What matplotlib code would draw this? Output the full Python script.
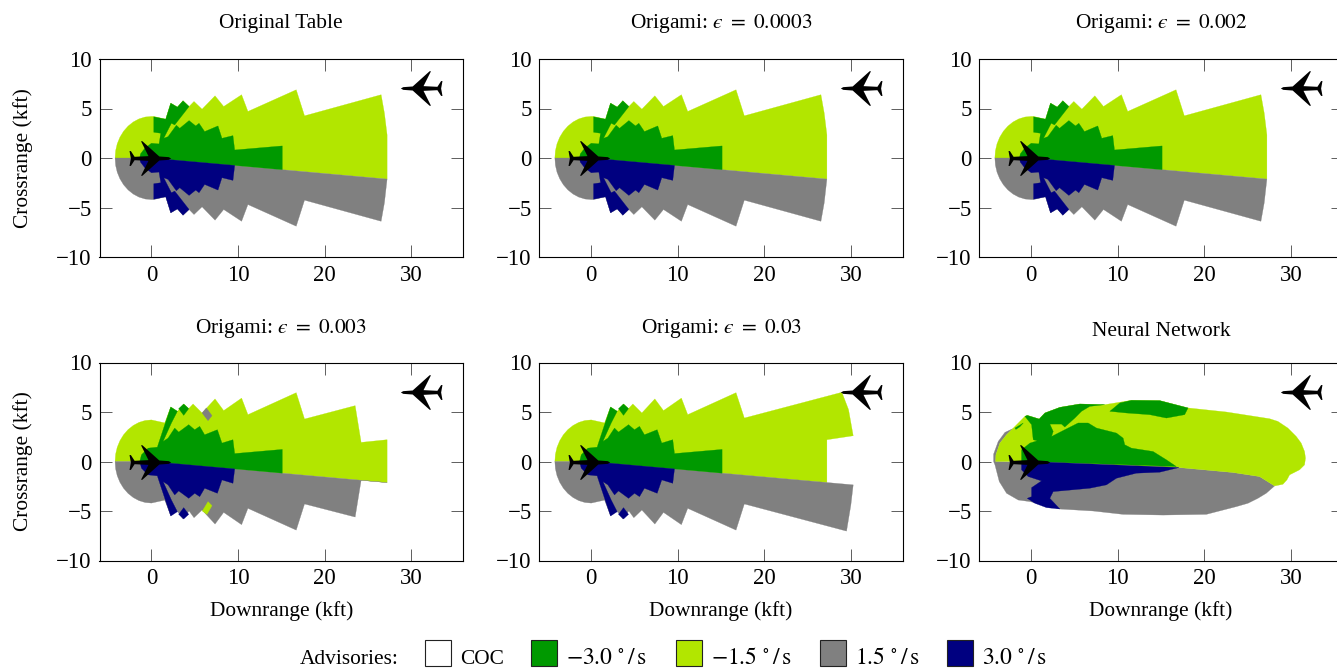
from matplotlib import pyplot as plt
from matplotlib.patches import Polygon, Rectangle
from matplotlib.path import Path

plt.rcParams['font.family'] = ['Liberation Serif', 'DejaVu Serif']
plt.rcParams['mathtext.fontset'] = 'stix'

COC = '#ffffff'
DARK = '#009900'
LIGHT = '#b2e600'
GRAY = '#808080'
NAVY = '#000080'

# rear half circle around ownship, shared by the table outlines (kft)
arc_top = [(-4.2, 0), (-4.14, 0.73), (-3.95, 1.44), (-3.64, 2.1), (-3.22, 2.7), (-2.7, 3.22), (-2.1, 3.64),
           (-1.44, 3.95), (-0.73, 4.14), (0, 4.2)]
arc_bottom = [(0, -4.2), (-0.73, -4.14), (-1.44, -3.95), (-2.1, -3.64), (-2.7, -3.22), (-3.22, -2.7), (-3.64, -2.1),
              (-3.95, -1.44), (-4.14, -0.73), (-4.2, 0)]

# table outlines
table_light = arc_top + [(0.27, 4.2), (1.65, 3.92), (2.23, 5.54), (3.0, 5.14), (3.65, 5.78), (4.35, 5.2), (4.92, 5.71),
                         (5.85, 4.93), (7.35, 6.28), (8.35, 5.2), (10.42, 6.39), (11.15, 4.7), (16.73, 6.89),
                         (17.69, 4.26), (26.54, 6.39), (26.92, 4.53), (27.23, 2.33), (27.23, -2.13), (0, 0)]
table_gray = [(0, 0), (27.23, -2.13), (26.92, -4.53), (26.54, -6.39), (17.69, -4.26), (16.73, -6.89),
              (11.15, -4.7), (10.42, -6.39), (8.35, -5.2), (7.35, -6.28), (5.85, -4.93), (4.92, -5.71), (4.35, -5.2),
              (3.65, -5.78), (3.0, -5.14), (2.23, -5.54), (1.65, -3.92), (0.27, -4.2)] + arc_bottom
table_dark = [(-1.35, 0), (-1.27, 0.41), (-0.77, 0.98), (0, 1.49), (0.88, 1.42), (1.08, 2.5), (0.27, 2.6), (0.27, 4.16),
              (1.65, 3.92), (2.23, 5.54), (3.0, 5.14), (3.65, 5.78), (4.35, 5.2), (2.69, 3.34), (2.31, 3.51),
              (1.42, 1.99), (1.92, 2.16), (2.88, 3.31), (3.27, 3.0), (4.35, 3.78), (5.12, 3.24), (5.5, 3.51),
              (6.15, 2.67), (7.69, 3.24), (8.15, 1.99), (9.42, 2.26), (9.62, 0.81), (15.12, 1.22), (15.12, -1.18),
              (0, 0)]
table_navy = [(-1.35, 0), (-1.27, -0.41), (-0.77, -0.98), (0, -1.49), (0.88, -1.42), (1.08, -2.5), (0.27, -2.6),
              (0.27, -4.16), (1.65, -3.92), (2.23, -5.54), (3.0, -5.14), (3.65, -5.78), (4.35, -5.2), (2.69, -3.34),
              (2.31, -3.51), (1.42, -1.99), (1.92, -2.16), (2.88, -3.31), (3.27, -3.0), (4.35, -3.78), (5.12, -3.24),
              (5.5, -3.51), (6.15, -2.67), (7.69, -3.24), (8.15, -1.99), (9.42, -2.26), (9.62, -0.75), (0, 0)]

# origami eps=0.003
e3_light = arc_top + [(1.54, 3.9), (2.23, 5.5), (3.0, 5.07), (3.73, 5.81), (4.31, 5.34), (4.81, 5.81), (5.85, 4.9),
                      (7.35, 6.32), (8.35, 5.14), (10.42, 6.4), (11.15, 4.73), (16.73, 6.95), (17.69, 4.29),
                      (23.54, 5.64), (24.23, 1.93), (27.23, 2.2), (27.23, -2.13), (0, 0)]
e3_gray = [(0, 0), (27.23, -2.13), (24.23, -1.9), (23.54, -5.61), (17.69, -4.29), (16.73, -6.93),
           (11.15, -4.73), (10.42, -6.38), (8.35, -5.14), (7.35, -6.32), (5.85, -4.9), (4.92, -5.68), (4.35, -5.0),
           (3.65, -5.81), (2.96, -5.0), (2.23, -5.47), (1.54, -3.9)] + arc_bottom
e3_dark = [(-1.35, 0), (-1.15, 0.68), (-0.38, 1.35), (0.69, 1.45), (0.77, 1.69), (1.54, 3.72), (2.23, 5.51), (3.0, 5.07),
           (2.31, 3.89), (1.35, 2.03), (1.92, 2.36), (2.69, 3.38), (3.15, 2.97), (4.31, 3.72), (5.0, 3.21), (5.58, 3.55),
           (6.15, 2.7), (7.62, 3.21), (8.15, 1.86), (9.42, 2.2), (9.62, 0.8), (15.12, 1.22), (15.12, -1.18), (0, 0)]
e3_navy = [(-1.35, 0), (-1.15, -0.68), (-0.38, -1.35), (0.69, -1.45), (0.77, -1.69), (1.54, -3.72), (2.23, -5.51),
           (3.0, -5.07), (2.31, -3.89), (1.35, -2.03), (1.92, -2.36), (2.69, -3.38), (3.15, -2.97), (4.31, -3.72),
           (5.0, -3.21), (5.58, -3.55), (6.15, -2.7), (7.62, -3.21), (8.15, -1.86), (9.42, -2.2), (9.62, -0.75), (0, 0)]
diamond_dark = [(3.15, 5.34), (3.73, 5.81), (4.31, 5.34), (3.73, 4.66)]
diamond_navy = [(3.15, -5.34), (3.73, -5.81), (4.31, -5.34), (3.73, -4.66)]
e3_gray_patch = [(5.85, 4.9), (6.35, 5.41), (7.0, 4.63), (6.54, 4.12)]
e3_light_patch = [(5.88, -5.0), (6.54, -4.05), (7.0, -4.46), (6.42, -5.34)]

# origami eps=0.03
e30_light = arc_top + [(1.54, 3.9), (2.23, 5.5), (3.0, 5.07), (3.73, 5.81), (4.31, 5.34), (4.81, 5.81), (5.85, 4.9),
                       (7.35, 6.32), (8.35, 5.14), (10.42, 6.4), (11.15, 4.73), (16.73, 6.95), (17.69, 4.39),
                       (28.96, 6.99), (29.73, 5.24), (30.27, 2.6), (27.23, 2.2), (27.23, -2.13), (0, 0)]
e30_gray = [(0, 0), (30.27, -2.36), (30.0, -4.39), (29.5, -7.03), (17.69, -4.29), (16.73, -6.93),
            (11.15, -4.73), (10.42, -6.38), (8.35, -5.14), (7.35, -6.32), (5.85, -4.9), (4.92, -5.68), (4.35, -5.0),
            (3.65, -5.81), (2.96, -5.0), (2.23, -5.47), (1.54, -3.9)] + arc_bottom

# neural network regions
nn_gray = [(-4.35, 0), (-4.35, 0.74), (-3.81, 2.03), (-3.04, 2.94), (-2.15, 3.31), (-2.85, 2.7), (-3.62, 1.86),
           (-4.08, 0.68), (-4.12, 0), (17.08, -0.61), (23.31, -1.11), (26.38, -1.52), (28.12, -2.47), (27.15, -3.21),
           (26.19, -3.72), (25.04, -4.22), (23.69, -4.56), (20.23, -5.34), (15.23, -5.41), (10.62, -5.34), (7.15, -5.0),
           (3.31, -4.8), (-0.15, -4.05), (-1.5, -3.89), (-2.85, -3.21), (-3.69, -2.03), (-4.19, -0.34)]
nn_light = [(-4.12, 0), (-4.08, 0.68), (-3.62, 1.86), (-2.85, 2.7), (-2.15, 3.31), (-0.73, 4.56), (-0.46, 4.66),
            (0.92, 4.29), (1.58, 4.9), (3.31, 5.47), (5.62, 5.81), (8.5, 5.74), (11.58, 6.18), (14.85, 6.15),
            (18.12, 5.41), (22.54, 5.0), (27.54, 4.32), (28.5, 4.05), (29.65, 3.38), (30.62, 2.53), (31.19, 1.86),
            (31.58, 1.01), (31.69, 0.34), (31.58, -0.34), (31.0, -0.84), (29.85, -1.35), (29.54, -1.86), (29.08, -2.3),
            (28.12, -2.47), (26.38, -1.52), (23.31, -1.11), (17.08, -0.61), (0, 0)]
nn_dark = [(-1.12, 0), (-1.12, 1.18), (-0.15, 1.86), (0.69, 2.09), (0.23, 2.2), (0.04, 3.72), (-0.73, 4.56), (-0.46, 4.66),
           (0.92, 4.29), (1.58, 4.9), (3.31, 5.47), (5.62, 5.81), (8.5, 5.74), (6.77, 5.57), (5.81, 5.07), (5.04, 4.39),
           (3.88, 3.48), (3.5, 3.78), (2.15, 3.78), (2.54, 3.04), (2.35, 2.53), (3.88, 3.21), (5.42, 3.89), (6.58, 3.89),
           (7.54, 3.38), (9.85, 2.87), (10.62, 2.36), (10.81, 1.69), (11.58, 1.35), (14.08, 1.01), (15.62, 0.17),
           (16.77, -0.51), (0, 0)]
nn_dark_top = [(9.08, 5.07), (10.23, 5.91), (11.58, 6.18), (14.85, 6.15), (18.12, 5.41), (17.73, 4.73), (15.62, 4.39),
               (13.69, 4.73), (11.0, 4.9)]
nn_dark_stripe = [(-1.88, 3.38), (-0.92, 3.89), (-1.31, 3.51), (-1.77, 3.24)]
nn_navy = [(-1.12, 0), (-1.12, -0.84), (-0.35, -1.52), (1.19, -1.96), (0.04, -2.64), (0.04, -3.55), (-0.46, -3.72),
           (0.42, -4.22), (1.77, -4.66), (3.31, -4.8), (2.15, -3.72), (2.54, -3.04), (6.77, -2.7), (8.69, -2.36),
           (9.85, -1.69), (12.15, -1.18), (14.85, -1.08), (17.08, -0.61), (0, 0)]

titles = ['Original Table', 'Origami: $\u03f5\\ =\\ 0.0003$', 'Origami: $\u03f5\\ =\\ 0.002$',
          'Origami: $\u03f5\\ =\\ 0.003$', 'Origami: $\u03f5\\ =\\ 0.03$', 'Neural Network']
title_base = [28, 28, 28, 333, 333, 336]
table_regions = [(table_light, LIGHT), (table_gray, GRAY), (table_dark, DARK), (table_navy, NAVY)]
panel_regions = [
    table_regions,
    table_regions,
    table_regions,
    [(e3_light, LIGHT), (e3_gray, GRAY), (e3_dark, DARK), (diamond_dark, DARK), (e3_gray_patch, GRAY),
     (e3_navy, NAVY), (diamond_navy, NAVY), (e3_light_patch, LIGHT)],
    [(e30_light, LIGHT), (e30_gray, GRAY), (e3_dark, DARK), (diamond_dark, DARK), (e3_navy, NAVY), (diamond_navy, NAVY)],
    [(nn_gray, GRAY), (nn_light, LIGHT), (nn_dark, DARK), (nn_dark_top, DARK), (nn_dark_stripe, DARK), (nn_navy, NAVY)],
]

x_ticks = [0, 10, 20, 30]
y_ticks = [-10, -5, 0, 5, 10]
ownship_pos = (-0.2, 0)
intruder_pos = (31.2, 7.05)

legend_labels = ['COC', r'$-3.0\ ^{\circ}\,/\,\mathrm{s}$', r'$-1.5\ ^{\circ}\,/\,\mathrm{s}$',
                 r'$1.5\ ^{\circ}\,/\,\mathrm{s}$', r'$3.0\ ^{\circ}\,/\,\mathrm{s}$']
legend_sizes = [15.4, 17, 17, 17, 17]
legend_colors = [COC, DARK, LIGHT, GRAY, NAVY]
legend_box_x = [425, 531, 676, 820, 947]

# plane outline, nose towards +x
half = [(61, 0), (54, -4), (26, -6), (-24, -51), (-28, -51), (-6, -7), (-47, -5), (-58, -22), (-62, -22), (-58, 0)]
plane_verts = half + [(x, -y) for x, y in half[-2:0:-1]]
plane = Path(plane_verts + [plane_verts[0]], closed=True)
plane_left = Path([(-x, y) for x, y in plane_verts] + [(-plane_verts[0][0], 0)], closed=True)

W, H = 1337, 672
FS = 15.4
fig = plt.figure(figsize=(W / 100, H / 100), dpi=100)
col_left = [99.5, 539.3, 979.3]
row_top = [59, 362.5]
ax_w, ax_h = 363.5, 198


def add_panel(i):
    r, c = i // 3, i % 3
    ax = fig.add_axes([col_left[c] / W, 1 - (row_top[r] + ax_h) / H, ax_w / W, ax_h / H])
    for pts, color in panel_regions[i]:
        ax.add_patch(Polygon(pts, closed=True, fc=color, ec=color, lw=0.2))
    ax.plot(*ownship_pos, marker=plane, ms=30.2, color='k', mew=0, zorder=5)
    ax.plot(*intruder_pos, marker=plane_left, ms=30.2, color='k', mew=0, zorder=5)
    ax.set_xlim(-6, 36)
    ax.set_ylim(-10, 10)
    ax.set_xticks(x_ticks)
    ax.set_yticks(y_ticks)
    ax.tick_params(direction='in', length=8.4, width=0.55, top=True, right=True, labelsize=16.5, pad=5.5, color='#333333')
    for sp in ax.spines.values():
        sp.set_linewidth(0.8)
    fig.text((col_left[c] + ax_w / 2) / W, 1 - title_base[i] / H, titles[i], ha='center', va='baseline', fontsize=FS)
    if c == 0:
        ax.set_ylabel('Crossrange (kft)', fontsize=FS)
        ax.yaxis.set_label_coords(-0.183, 0.5)
    if r == 1:
        ax.set_xlabel('Downrange (kft)', fontsize=FS)
        ax.xaxis.set_label_coords(0.5, -0.205)
    return ax


for i in range(6):
    add_panel(i)

fig.text(300 / W, 1 - 664 / H, 'Advisories:', ha='left', va='baseline', fontsize=FS)
for lab, size, col, bx in zip(legend_labels, legend_sizes, legend_colors, legend_box_x):
    fig.add_artist(Rectangle((bx / W, 1 - 666 / H), 26 / W, 26 / H, transform=fig.transFigure, fc=col, ec='#222222', lw=0.8))
    fig.text((bx + 35) / W, 1 - 664 / H, lab, ha='left', va='baseline', fontsize=size)

fig.savefig('out.png', dpi=100)
